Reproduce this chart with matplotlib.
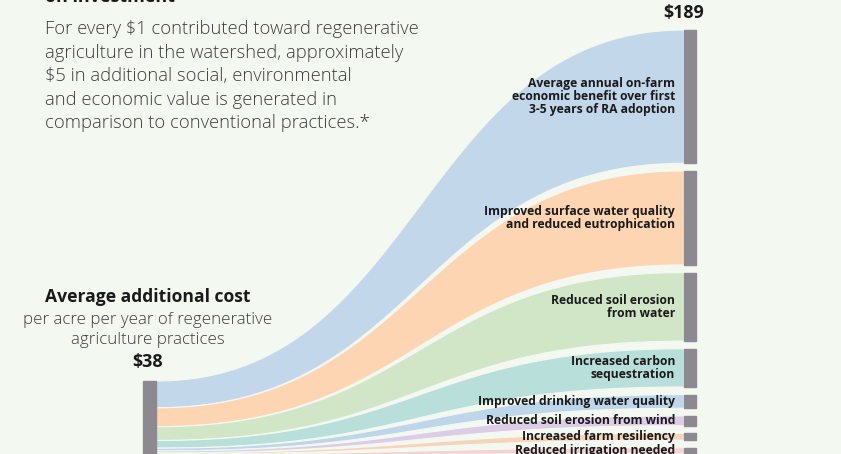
import matplotlib
matplotlib.use("Agg")
import matplotlib.pyplot as plt
import numpy as np

# benefit categories, dollars per acre per year
labels = [
    "Average annual on-farm\neconomic benefit over first\n3-5 years of RA adoption",
    "Improved surface water quality\nand reduced eutrophication",
    "Reduced soil erosion\nfrom water",
    "Increased carbon\nsequestration",
    "Improved drinking water quality",
    "Reduced soil erosion from wind",
    "Increased farm resiliency",
    "Reduced irrigation needed",
]
values = [68, 48, 35, 19.5, 7, 5, 3.5, 3]
colors = ["#C2D7EA", "#FDD5B3", "#D1E6C7", "#B9DFDB",
          "#BED6EA", "#DDCCE6", "#F8D3BA", "#F4D2D6"]
cost = 38
total = 189

bg = "#F3F9F1"
node_col = "#8D8990"
txt = "#1A1A1A"
grey = "#3C3C3C"

fig = plt.figure(figsize=(8.41, 4.54), dpi=100, facecolor=bg)
ax = fig.add_axes([0, 0, 1, 1])
ax.set_facecolor(bg)
ax.set_xlim(0, 841)
ax.set_ylim(454, 0)
ax.axis("off")

k = 1.96      # px per dollar
gap = 7.6
xl0, xl1 = 143.5, 156.5   # left node
xr0, xr1 = 684, 696       # right node
left_top = 381
right_top = 30

def bez(x0, x1, y0, y1, n=120):
    t = np.linspace(0, 1, n)
    xm = (x0 + x1) / 2
    x = x0*(1-t)**3 + 3*xm*(1-t)**2*t + 3*xm*(1-t)*t**2 + x1*t**3
    y = y0 + (y1 - y0) * (3*t**2 - 2*t**3)
    return x, y

ly = left_top
ry = right_top
for lab, v, c in zip(labels, values, colors):
    lh = v * cost / total * k
    rh = v * k
    xt, yt = bez(xl1, xr0, ly, ry)
    xb, yb = bez(xl1, xr0, ly + lh, ry + rh)
    ax.fill(np.r_[xt, xb[::-1]], np.r_[yt, yb[::-1]], color=c,
            ec=bg, lw=0.8, zorder=1)
    ax.add_patch(plt.Rectangle((xr0, ry), xr1 - xr0, rh, color=node_col, zorder=3))
    ax.text(675, ry + rh / 2, lab, ha="right", va="center", fontsize=8.7,
            fontweight="bold", color=txt, linespacing=1.0, zorder=4,
            family="Open Sans")
    ly += lh
    ry += rh + gap

ax.add_patch(plt.Rectangle((xl0, left_top), xl1 - xl0, cost * k,
                           color=node_col, zorder=3))

# headline text (cut off by the top edge in the original)
ax.text(45, 2.5, "on investment", ha="left", va="baseline", fontsize=13,
        fontweight="bold", color=txt, family="Open Sans")
para = ("For every \\$1 contributed toward regenerative\n"
        "agriculture in the watershed, approximately\n"
        "\\$5 in additional social, environmental\n"
        "and economic value is generated in\n"
        "comparison to conventional practices.*")
ax.text(45, 20, para, ha="left", va="top", fontsize=13.2, color=grey,
        linespacing=1.4, family="Open Sans", fontweight="light")

ax.text(690, -3.5, "Average value generated (per acre, per year)", ha="center",
        va="baseline", fontsize=11, color=grey, family="Open Sans")
ax.text(684, 13, "\\$%d" % total, ha="center", va="center", fontsize=12.8,
        fontweight="bold", color=txt, family="Open Sans")

ax.text(148, 297, "Average additional cost", ha="center", va="center",
        fontsize=12.6, fontweight="bold", color=txt, family="Open Sans")
ax.text(148, 330, "per acre per year of regenerative\nagriculture practices",
        ha="center", va="center", fontsize=12.2, color=grey,
        linespacing=1.3, family="Open Sans", fontweight="light")
ax.text(148, 362, "\\$%d" % cost, ha="center", va="center", fontsize=13,
        fontweight="bold", color=txt, family="Open Sans")

fig.savefig("out.png", dpi=100, facecolor=bg)
